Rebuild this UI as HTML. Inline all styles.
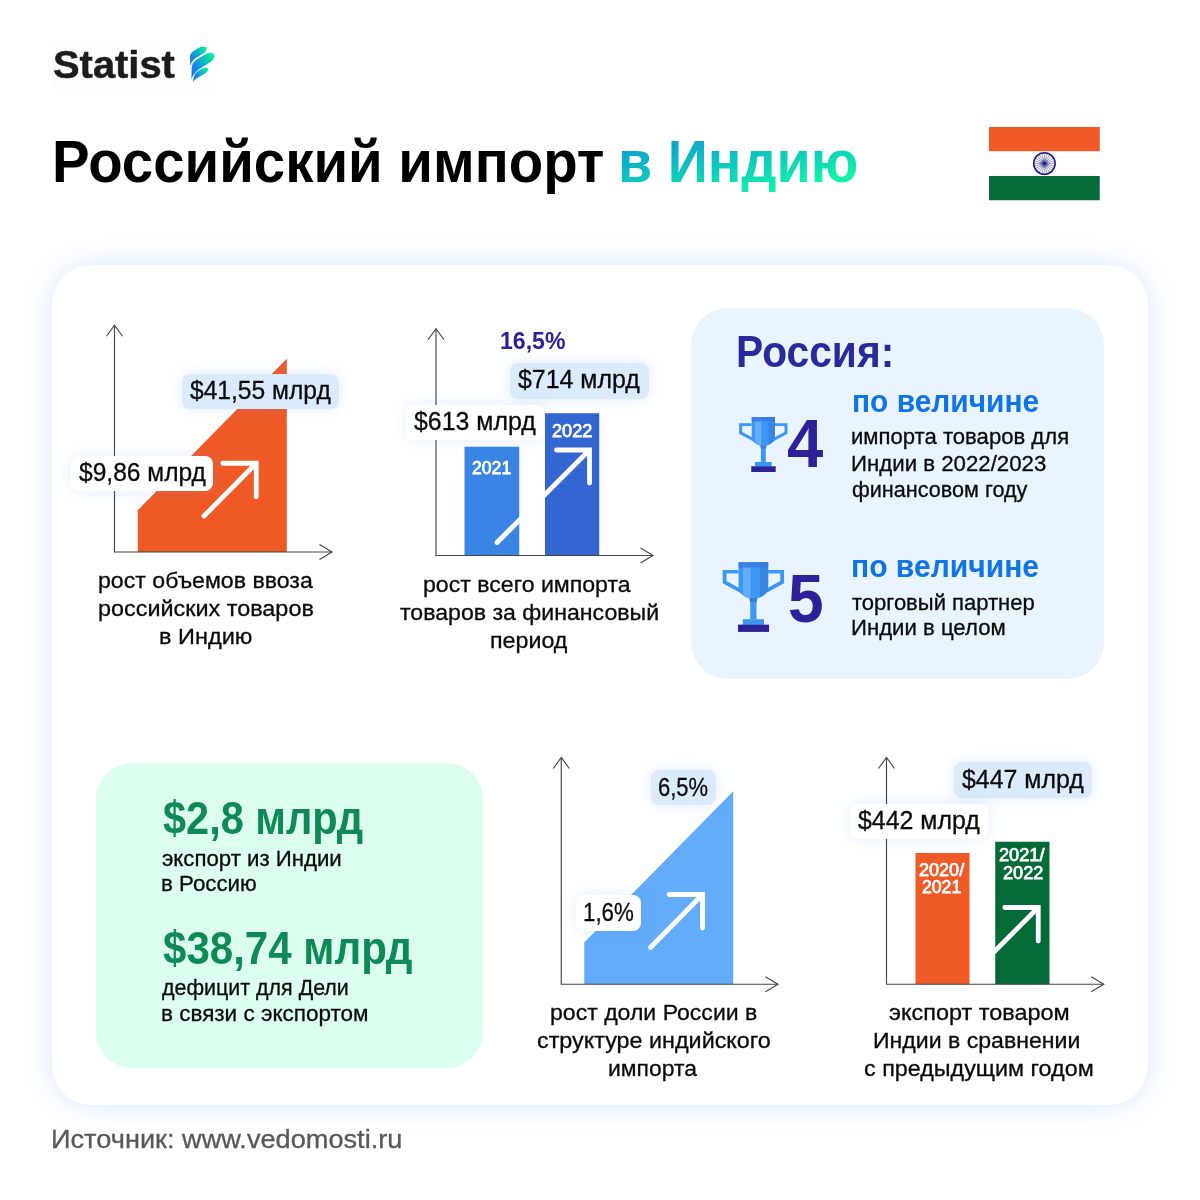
<!DOCTYPE html>
<html lang="ru"><head><meta charset="utf-8"><title>Российский импорт в Индию</title>
<style>
html,body{margin:0;padding:0}
body{width:1200px;height:1200px;position:relative;overflow:hidden;background:#fff;font-family:"Liberation Sans",sans-serif}
.logo-bg{position:absolute;left:52px;top:42px;width:166px;height:50px;background:#fdfdfd}
.card{position:absolute;left:52px;top:265.4px;width:1095.5px;height:839.8px;border-radius:40px;background:#fff;box-shadow:0 0 32px rgba(95,160,250,.24)}
.rus{position:absolute;left:690.6px;top:307.6px;width:413.5px;height:371.1px;border-radius:37px;background:#e9f4ff}
.grn{position:absolute;left:95.6px;top:763.2px;width:387.1px;height:305.1px;border-radius:36px;background:#dcfeee}
.layer{position:absolute;left:0;top:0}
.pill{position:absolute;border-radius:8px;box-shadow:0 0 16px rgba(80,140,250,.17)}
.pb{background:#dbebfd}
.pw{background:#fff}
.t{position:absolute;white-space:nowrap;line-height:1;transform-origin:0 0;font-weight:400;-webkit-text-stroke:.3px}
.b{font-weight:700;-webkit-text-stroke:0}
.logo{-webkit-text-stroke:.5px}
.m{-webkit-text-stroke:.75px}
.grad{background:linear-gradient(169deg,#0c9ed2 14px,#10f5a8 92px);-webkit-background-clip:text;background-clip:text;color:transparent;-webkit-text-fill-color:transparent}
</style></head><body>
<div class="logo-bg"></div>
<div class="card"></div>
<div class="rus"></div>
<div class="grn"></div>
<svg class="layer" width="1200" height="1200" viewBox="0 0 1200 1200">
<defs>
<linearGradient id="lg" x1="0" y1="1" x2="1" y2="0"><stop offset="0.05" stop-color="#1c6cf4"/><stop offset="0.35" stop-color="#168ce4"/><stop offset="0.68" stop-color="#0cc4bc"/><stop offset="0.95" stop-color="#0af59c"/></linearGradient>
</defs>
<!-- logo icon -->
<g transform="translate(170 30) scale(0.05831)" fill="url(#lg)">
<path d="M347 612L343 440C355 385 440 335 530 288L620 292C634 305 632 332 600 388L440 482C400 510 365 560 347 612Z"/>
<path d="M368 842L372 640C385 570 420 530 470 498L640 398L725 392L762 425C762 470 745 512 700 545L520 655C450 700 395 760 368 842Z"/>
<path d="M395 892C400 820 420 760 450 730C480 700 540 665 600 643L650 652C662 680 645 715 610 740L480 815C440 840 415 860 395 892Z"/>
</g>
<!-- flag -->
<rect x="989" y="127" width="110.75" height="24.2" fill="#f15a27"/>
<rect x="989" y="176" width="110.75" height="24.25" fill="#046a38"/>
<circle cx="1044.4" cy="163.5" r="10.7" fill="none" stroke="#1d1e7e" stroke-width="1.6"/>
<g stroke="#1d1e7e" stroke-width="0.55" opacity="0.8"><path d="M1046.40 163.50L1054.40 163.50"/><path d="M1046.33 164.02L1054.06 166.09"/><path d="M1046.13 164.50L1053.06 168.50"/><path d="M1045.81 164.91L1051.47 170.57"/><path d="M1045.40 165.23L1049.40 172.16"/><path d="M1044.92 165.43L1046.99 173.16"/><path d="M1044.40 165.50L1044.40 173.50"/><path d="M1043.88 165.43L1041.81 173.16"/><path d="M1043.40 165.23L1039.40 172.16"/><path d="M1042.99 164.91L1037.33 170.57"/><path d="M1042.67 164.50L1035.74 168.50"/><path d="M1042.47 164.02L1034.74 166.09"/><path d="M1042.40 163.50L1034.40 163.50"/><path d="M1042.47 162.98L1034.74 160.91"/><path d="M1042.67 162.50L1035.74 158.50"/><path d="M1042.99 162.09L1037.33 156.43"/><path d="M1043.40 161.77L1039.40 154.84"/><path d="M1043.88 161.57L1041.81 153.84"/><path d="M1044.40 161.50L1044.40 153.50"/><path d="M1044.92 161.57L1046.99 153.84"/><path d="M1045.40 161.77L1049.40 154.84"/><path d="M1045.81 162.09L1051.47 156.43"/><path d="M1046.13 162.50L1053.06 158.50"/><path d="M1046.33 162.98L1054.06 160.91"/></g>
<circle cx="1044.4" cy="163.5" r="4" fill="#1d1e7e" opacity="0.3"/>
<circle cx="1044.4" cy="163.5" r="2" fill="#1d1e7e"/>
<!-- chart 1 -->
<path d="M137.8 552V510.2L286.8 358.75V552Z" fill="#f05a26"/>
<!-- chart 2 -->
<rect x="464.5" y="446.75" width="54.75" height="108.75" fill="#3a85e4"/>
<rect x="545" y="413.25" width="54.25" height="142.25" fill="#3366d1"/>
<!-- chart 3 -->
<path d="M584.25 984.25V942.5L733.25 791.25V984.25Z" fill="#62acf9"/>
<!-- chart 4 -->
<rect x="915.5" y="853" width="54" height="131.25" fill="#f05a26"/>
<rect x="995.25" y="841.75" width="54.25" height="142.5" fill="#046a38"/>
<g fill="none" stroke="#454545" stroke-width="1.15">
<path d="M114.5 325.25V552H332" /><path d="M106.5 336.25L114.5 325.25L122.5 336.25" /><path d="M319.5 544.5L332 552L319.5 559.5" />
<path d="M436 328.75V555.5H653" /><path d="M428 339.75L436 328.75L444 339.75" /><path d="M640.5 548.0L653 555.5L640.5 563.0" />
<path d="M561.25 757.5V984.25H778" /><path d="M553.25 768.5L561.25 757.5L569.25 768.5" /><path d="M765.5 976.75L778 984.25L765.5 991.75" />
<path d="M886.5 757.5V984.25H1103.75" /><path d="M878.5 768.5L886.5 757.5L894.5 768.5" /><path d="M1091.25 976.75L1103.75 984.25L1091.25 991.75" />
</g>
<g fill="none" stroke="#fff" stroke-width="4.8" stroke-linecap="round" stroke-linejoin="miter">
<path d="M204 516L256.25 463.25M222.75 463.25H256.25V496.75" />
<path d="M497 542.5L589.5 450M556.5 450H589.5V483" />
<path d="M650.5 947.5L702.5 894.5M669.0 894.5H702.5V928.0" />
<path d="M985 961L1038.25 907.5M1004.75 907.5H1038.25V941.0" />
</g>
<g transform="translate(739.2 417.1) scale(1.0)">
<path d="M12.5 6.1H0V16.65L14.8 24.6L16.2 22L3 14.9V8.9H12.5Z" fill="#3b97f3"/>
<path d="M35.8 6.1H48.3V16.65L33.5 24.6L32.1 22L45.3 14.9V8.9H35.8Z" fill="#3b97f3"/>
<path d="M12.5 0H35.8V20.4C35.8 25 30 28.7 24.15 28.7C18.3 28.7 12.5 25 12.5 20.4Z" fill="#3b97f3"/>
<path d="M16 0H22V28.6C19.8 28.3 17.6 27.5 16 26.3Z" fill="#62aef9"/>
<path d="M29.3 0H35.8V20.4C35.8 23.2 33 25.8 29.3 27.5Z" fill="#3a84e4"/>
<rect x="12.5" y="0" width="23.3" height="4.15" fill="#3b78de" opacity="0.85"/>
<path d="M20.8 28.2H27.5L26.6 32H21.7Z" fill="#3b7be0"/>
<path d="M21.7 31.5H26.6V45H21.7Z" fill="#3b97f3"/>
<rect x="15.8" y="44.9" width="16.7" height="4.4" fill="#3b97f3"/>
<rect x="12.05" y="49.15" width="24.45" height="5.75" fill="#2d2399"/>
</g>
<g transform="translate(722.7 562.2) scale(1.27)">
<path d="M12.5 6.1H0V16.65L14.8 24.6L16.2 22L3 14.9V8.9H12.5Z" fill="#3b97f3"/>
<path d="M35.8 6.1H48.3V16.65L33.5 24.6L32.1 22L45.3 14.9V8.9H35.8Z" fill="#3b97f3"/>
<path d="M12.5 0H35.8V20.4C35.8 25 30 28.7 24.15 28.7C18.3 28.7 12.5 25 12.5 20.4Z" fill="#3b97f3"/>
<path d="M16 0H22V28.6C19.8 28.3 17.6 27.5 16 26.3Z" fill="#62aef9"/>
<path d="M29.3 0H35.8V20.4C35.8 23.2 33 25.8 29.3 27.5Z" fill="#3a84e4"/>
<rect x="12.5" y="0" width="23.3" height="4.15" fill="#3b78de" opacity="0.85"/>
<path d="M20.8 28.2H27.5L26.6 32H21.7Z" fill="#3b7be0"/>
<path d="M21.7 31.5H26.6V45H21.7Z" fill="#3b97f3"/>
<rect x="15.8" y="44.9" width="16.7" height="4.4" fill="#3b97f3"/>
<rect x="12.05" y="49.15" width="24.45" height="5.75" fill="#2d2399"/>
</g>
</svg>
<div class="pill pb" style="left:182px;top:374.25px;width:156.75px;height:35.0px"></div>
<div class="pill pw" style="left:71px;top:456.25px;width:141.75px;height:35.0px"></div>
<div class="pill pb" style="left:510.3px;top:362.8px;width:138.59999999999997px;height:35.80000000000001px"></div>
<div class="pill pw" style="left:406.25px;top:405px;width:137.5px;height:35px"></div>
<div class="pill pb" style="left:650.5px;top:769.5px;width:65.25px;height:35.5px"></div>
<div class="pill pw" style="left:575.5px;top:895px;width:65.25px;height:35.75px"></div>
<div class="pill pb" style="left:953.75px;top:762px;width:138.25px;height:35.5px"></div>
<div class="pill pw" style="left:850px;top:803.75px;width:138px;height:35.5px"></div>
<span class="t b logo" style="left:53.41px;top:46.41px;font-size:38.5px;transform:scaleX(1.0360);color:#1c1c1c">Statist</span>
<span class="t b" style="left:52.23px;top:132.76px;font-size:59px;transform:scaleX(0.9552);color:#000">Российский импорт</span>
<span class="t b grad" style="left:617.51px;top:132.76px;font-size:59px;transform:scaleX(0.9431)">в Индию</span>
<span class="t" style="left:189.80px;top:376.99px;font-size:26px;transform:scaleX(0.9460);color:#0a0a0a">$41,55 млрд</span>
<span class="t" style="left:79.40px;top:458.99px;font-size:26px;transform:scaleX(0.9447);color:#0a0a0a">$9,86 млрд</span>
<span class="t" style="left:98.47px;top:570.12px;font-size:22.3px;transform:scaleX(1.0370);color:#0a0a0a">рост объемов ввоза</span>
<span class="t" style="left:98.43px;top:597.87px;font-size:22.3px;transform:scaleX(1.0491);color:#0a0a0a">российских товаров</span>
<span class="t" style="left:158.84px;top:625.62px;font-size:22.3px;transform:scaleX(1.0551);color:#0a0a0a">в Индию</span>
<span class="t b" style="left:499.51px;top:328.98px;font-size:24px;transform:scaleX(0.9608);color:#2a219b">16,5%</span>
<span class="t" style="left:517.90px;top:366.49px;font-size:26px;transform:scaleX(0.9579);color:#0a0a0a">$714 млрд</span>
<span class="t" style="left:414.40px;top:408.19px;font-size:26px;transform:scaleX(0.9573);color:#0a0a0a">$613 млрд</span>
<span class="t m" style="left:472.17px;top:459.94px;font-size:17.5px;transform:scaleX(1.0061);color:#fff">2021</span>
<span class="t m" style="left:551.67px;top:422.94px;font-size:17.5px;transform:scaleX(1.0363);color:#fff">2022</span>
<span class="t" style="left:423.47px;top:573.62px;font-size:22.3px;transform:scaleX(1.0369);color:#0a0a0a">рост всего импорта</span>
<span class="t" style="left:400.00px;top:602.12px;font-size:22.3px;transform:scaleX(1.0363);color:#0a0a0a">товаров за финансовый</span>
<span class="t" style="left:489.87px;top:629.62px;font-size:22.3px;transform:scaleX(1.0417);color:#0a0a0a">период</span>
<span class="t b" style="left:736.28px;top:329.75px;font-size:44px;transform:scaleX(0.9262);color:#2a2a9c">Россия:</span>
<span class="t b" style="left:852.47px;top:386.34px;font-size:31.5px;transform:scaleX(0.9496);color:#1074e6">по величине</span>
<span class="t" style="left:851.43px;top:427.20px;font-size:21.5px;transform:scaleX(1.0282);color:#0a0a0a">импорта товаров для</span>
<span class="t" style="left:851.21px;top:453.80px;font-size:21.5px;transform:scaleX(1.0337);color:#0a0a0a">Индии в 2022/2023</span>
<span class="t" style="left:852.15px;top:480.10px;font-size:21.5px;transform:scaleX(1.0055);color:#0a0a0a">финансовом году</span>
<span class="t b" style="left:787.01px;top:409.44px;font-size:68px;transform:scaleX(0.9590);color:#2d2099">4</span>
<span class="t b" style="left:851.47px;top:550.94px;font-size:31.5px;transform:scaleX(0.9543);color:#1074e6">по величине</span>
<span class="t" style="left:852.00px;top:592.50px;font-size:21.5px;transform:scaleX(1.0241);color:#0a0a0a">торговый партнер</span>
<span class="t" style="left:851.21px;top:617.80px;font-size:21.5px;transform:scaleX(1.0306);color:#0a0a0a">Индии в целом</span>
<span class="t b" style="left:787.60px;top:564.44px;font-size:68px;transform:scaleX(0.9412);color:#2d2099">5</span>
<span class="t b" style="left:162.88px;top:796.48px;font-size:45.5px;transform:scaleX(0.9121);color:#0f8a56">$2,8 млрд</span>
<span class="t" style="left:162.22px;top:847.92px;font-size:22.3px;transform:scaleX(0.9960);color:#0a0a0a">экспорт из Индии</span>
<span class="t" style="left:161.42px;top:873.32px;font-size:22.3px;transform:scaleX(0.9997);color:#0a0a0a">в Россию</span>
<span class="t b" style="left:163.28px;top:926.48px;font-size:45.5px;transform:scaleX(0.9244);color:#0f8a56">$38,74 млрд</span>
<span class="t" style="left:162.00px;top:977.12px;font-size:22.3px;transform:scaleX(0.9613);color:#0a0a0a">дефицит для Дели</span>
<span class="t" style="left:161.40px;top:1003.37px;font-size:22.3px;transform:scaleX(1.0084);color:#0a0a0a">в связи с экспортом</span>
<span class="t" style="left:657.57px;top:774.49px;font-size:26px;transform:scaleX(0.8446);color:#0a0a0a">6,5%</span>
<span class="t" style="left:583.31px;top:898.99px;font-size:26px;transform:scaleX(0.8572);color:#0a0a0a">1,6%</span>
<span class="t" style="left:549.97px;top:1001.62px;font-size:22.3px;transform:scaleX(1.0341);color:#0a0a0a">рост доли России в</span>
<span class="t" style="left:537.09px;top:1030.12px;font-size:22.3px;transform:scaleX(1.0470);color:#0a0a0a">структуре индийского</span>
<span class="t" style="left:608.39px;top:1057.62px;font-size:22.3px;transform:scaleX(1.0275);color:#0a0a0a">импорта</span>
<span class="t" style="left:962.40px;top:765.99px;font-size:26px;transform:scaleX(0.9579);color:#0a0a0a">$447 млрд</span>
<span class="t" style="left:857.90px;top:807.39px;font-size:26px;transform:scaleX(0.9573);color:#0a0a0a">$442 млрд</span>
<span class="t m" style="left:919.17px;top:862.44px;font-size:17.5px;transform:scaleX(1.0311);color:#fff">2020/</span>
<span class="t m" style="left:922.17px;top:879.19px;font-size:17.5px;transform:scaleX(1.0061);color:#fff">2021</span>
<span class="t m" style="left:999.15px;top:847.44px;font-size:17.5px;transform:scaleX(1.0373);color:#fff">2021/</span>
<span class="t m" style="left:1002.67px;top:864.94px;font-size:17.5px;transform:scaleX(1.0363);color:#fff">2022</span>
<span class="t" style="left:889.20px;top:1001.62px;font-size:22.3px;transform:scaleX(1.0516);color:#0a0a0a">экспорт товаром</span>
<span class="t" style="left:873.17px;top:1030.12px;font-size:22.3px;transform:scaleX(1.0357);color:#0a0a0a">Индии в сравнении</span>
<span class="t" style="left:864.09px;top:1057.62px;font-size:22.3px;transform:scaleX(1.0462);color:#0a0a0a">с предыдущим годом</span>
<span class="t" style="left:50.64px;top:1125.87px;font-size:26.5px;transform:scaleX(1.0248);color:#585858">Источник: www.vedomosti.ru</span>
</body></html>
